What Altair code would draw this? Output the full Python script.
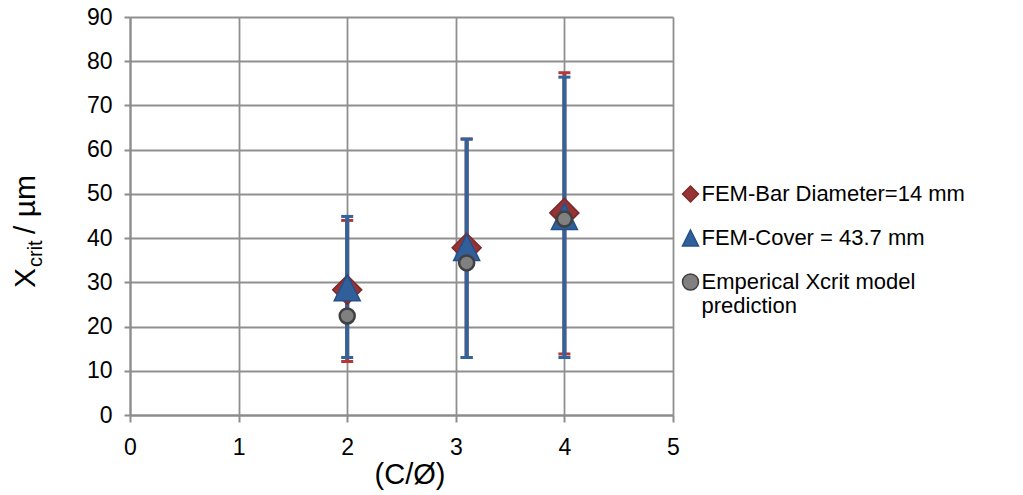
import altair as alt
import pandas as pd

# ---- data ----
series_names = ["FEM-Bar Diameter=14 mm", "FEM-Cover = 43.7 mm",
                "Emperical Xcrit model prediction"]

x_vals = [2, 3.1, 4]
y_diam = [28.3, 37.8, 45.7]      # FEM-Bar Diameter=14 mm
y_cover = [28.8, 37.9, 44.9]     # FEM-Cover = 43.7 mm
y_emp = [22.4, 34.4, 44.3]       # Emperical Xcrit model prediction

err_lo_diam = [12.1, 13.0, 13.8]
err_hi_diam = [44.0, 62.4, 77.4]
err_lo_cover = [13.0, 13.0, 13.0]
err_hi_cover = [44.9, 62.4, 76.4]

x_ticks = [0, 1, 2, 3, 4, 5]
y_ticks = [0, 10, 20, 30, 40, 50, 60, 70, 80, 90]

FONT = "Liberation Sans"
TICK_FS = 23
fills = ["#993333", "#305f9a", "#808080"]
strokes = ["#7a2a2a", "#24508a", "#404040"]
shapes = ["diamond", "M0,-1L1,1L-1,1Z", "circle"]

xs = alt.Scale(domain=[0, 5], nice=False, zero=False)
ys = alt.Scale(domain=[0, 90], nice=False)

xax = alt.Axis(values=x_ticks, title="(C/Ø)", titleFont=FONT, titleFontSize=29,
               titleFontWeight="normal", titleColor="black", titleX=279.5, titleY=68,
               titleBaseline="alphabetic", titleAlign="center",
               labelFont=FONT, labelFontSize=TICK_FS, labelColor="black", labelFlush=False,
               labelPadding=14, tickSize=7, grid=True, format="d")
yax = alt.Axis(values=y_ticks, title=None, labelFont=FONT, labelFontSize=TICK_FS,
               labelColor="black", labelFlush=False,
               labelPadding=12, tickSize=6, grid=True, format="d")


def errbars(xv, lo, hi, color):
    df = pd.DataFrame({"x": xv, "lo": lo, "hi": hi})
    base = alt.Chart(df)
    rule = base.mark_rule(color=color, strokeWidth=4).encode(
        x=alt.X("x:Q", scale=xs, axis=xax), y=alt.Y("lo:Q", scale=ys, axis=yax), y2="hi:Q")
    t1 = base.mark_tick(color=color, orient="horizontal", size=12, thickness=3, opacity=1).encode(
        x=alt.X("x:Q", scale=xs, axis=xax), y=alt.Y("lo:Q", scale=ys, axis=yax))
    t2 = base.mark_tick(color=color, orient="horizontal", size=12, thickness=3, opacity=1).encode(
        x=alt.X("x:Q", scale=xs, axis=xax), y=alt.Y("hi:Q", scale=ys, axis=yax))
    return [rule, t1, t2]


legend = alt.Legend(
    title=None, orient="none", legendX=549.5, legendY=166,
    labelFont=FONT, labelFontSize=22, labelColor="black", labelLimit=400,
    symbolSize=256, symbolStrokeWidth=1.5, rowPadding=22, labelOffset=0, padding=0,
    labelExpr="datum.label == 'Emperical Xcrit model prediction' ? ['Emperical Xcrit model', 'prediction'] : datum.label",
)


def point_layer(name, yv, size, sw):
    df = pd.DataFrame({"x": x_vals, "y": yv, "series": [name] * len(yv)})
    return alt.Chart(df).mark_point(filled=True, opacity=1, size=size, strokeWidth=sw).encode(
        x=alt.X("x:Q", scale=xs, axis=xax),
        y=alt.Y("y:Q", scale=ys, axis=yax),
        fill=alt.Fill("series:N", scale=alt.Scale(domain=series_names, range=fills), legend=legend),
        stroke=alt.Stroke("series:N", scale=alt.Scale(domain=series_names, range=strokes), legend=legend),
        shape=alt.Shape("series:N", scale=alt.Scale(domain=series_names, range=shapes), legend=legend),
    )


p1 = point_layer(series_names[0], y_diam, 841, 1.5)
p2 = point_layer(series_names[1], y_cover, 676, 1.5)
p3 = point_layer(series_names[2], y_emp, 225, 2.5)

# Y-axis title with subscript, built from text pieces
t_x = alt.Chart(pd.DataFrame({"t": ["X"]})).mark_text(
    angle=270, align="left", baseline="alphabetic", font=FONT, fontSize=30, color="black"
).encode(text="t:N", x=alt.value(-95), y=alt.value(271))
t_crit = alt.Chart(pd.DataFrame({"t": ["crit"]})).mark_text(
    angle=270, align="left", baseline="alphabetic", font=FONT, fontSize=20, color="black"
).encode(text="t:N", x=alt.value(-88), y=alt.value(250))
t_um = alt.Chart(pd.DataFrame({"t": ["/ µm"]})).mark_text(
    angle=270, align="left", baseline="alphabetic", font=FONT, fontSize=30, color="black"
).encode(text="t:N", x=alt.value(-95), y=alt.value(217))

layers = (errbars(x_vals, err_lo_diam, err_hi_diam, "#b03a3a")
          + errbars(x_vals, err_lo_cover, err_hi_cover, "#33639c")
          + [p1, p2, p3, t_x, t_crit, t_um])

chart = alt.layer(*layers).properties(
    width=543, height=398, autosize="none",
    padding={"left": 122, "top": 9, "right": 330, "bottom": 78},
).configure_view(stroke=None).configure_axis(
    labelFont=FONT, labelFontSize=TICK_FS, labelColor="black",
    domainColor="#8c8c8c", domainWidth=2, tickColor="#8c8c8c", tickWidth=2,
    gridColor="#8f8f8f", gridWidth=1.8, gridOpacity=1,
)

chart.save("out.html", embed_options={"renderer": "svg", "actions": False})
